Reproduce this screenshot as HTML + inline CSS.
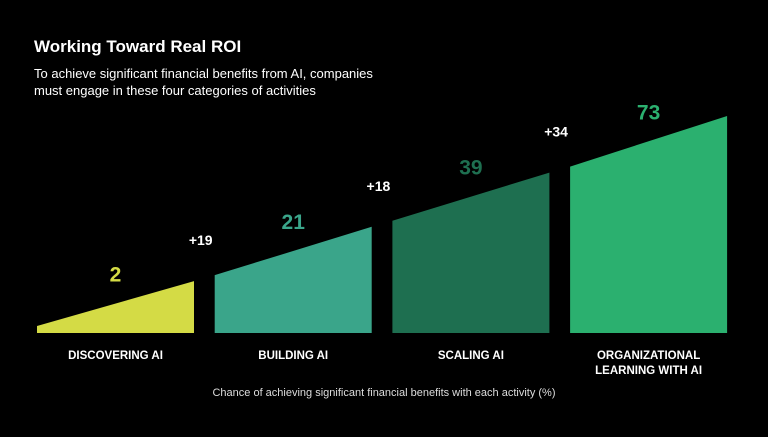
<!DOCTYPE html>
<html><head><meta charset="utf-8"><style>
body{margin:0;background:#000;width:768px;height:432px;overflow:hidden;font-family:"Liberation Sans",sans-serif}
</style></head><body>
<svg width="768" height="432" id="chart" font-family="Liberation Sans, sans-serif">
<text x="34" y="52" fill="#fff" font-size="17" font-weight="bold">Working Toward Real ROI</text>
<text x="34" y="78" fill="#fff" font-size="13">To achieve significant financial benefits from AI, companies</text>
<text x="34" y="95" fill="#fff" font-size="13">must engage in these four categories of activities</text>
<text x="384" y="396" fill="#ddd" font-size="11" text-anchor="middle">Chance of achieving significant financial benefits with each activity (%)</text>
</svg>
<script>
const categories=[["DISCOVERING AI"],["BUILDING AI"],["SCALING AI"],["ORGANIZATIONAL","LEARNING WITH AI"]];
const values=[2,21,39,73];
const deltas=["+19","+18","+34"];
const colors=["#d4db45","#3aa58a","#1e6f50","#2bb06f"];
const svg=document.getElementById('chart');
const NS="http://www.w3.org/2000/svg";
const base=333, maxH=217, x0=37, w=157, step=177.7;
const maxV=Math.max(...values);
const n=values.length;
// stepped scale: mostly by position in sequence, adjusted by value
function h(v,i){return maxH*(0.95*(i+1)/n+0.05*v/maxV);}
function mk(tag,attrs){const e=document.createElementNS(NS,tag);for(const k in attrs)e.setAttribute(k,attrs[k]);svg.appendChild(e);return e;}
values.forEach((v,i)=>{
  const xl=x0+i*step, xr=xl+w;
  const leftH=i===0?7:h(values[i-1],i-1)+6;
  const rightH=h(v,i);
  const p=mk('polygon',{points:`${xl},${base} ${xl},${base-leftH} ${xr},${base-rightH} ${xr},${base}`,fill:colors[i]});
  
  
  const midTop=base-(leftH+rightH)/2;
  const t=mk('text',{x:xl+w/2,y:midTop-22,fill:colors[i],'font-size':21,'font-weight':'bold','text-anchor':'middle'});
  t.textContent=v;
  
  
  if(i>0){
    const d=mk('text',{x:xl-14,y:base-leftH-30,fill:'#fff','font-size':14,'font-weight':'bold','text-anchor':'middle'});
    d.textContent=deltas[i-1];
    
    
  }
  categories[i].forEach((line,j)=>{
    const c=mk('text',{x:xl+w/2,y:359+j*15,fill:'#fff','font-size':11.5,'font-weight':'bold','text-anchor':'middle'});
    c.textContent=line;
    
    
  });
});
</script>
</body></html>
